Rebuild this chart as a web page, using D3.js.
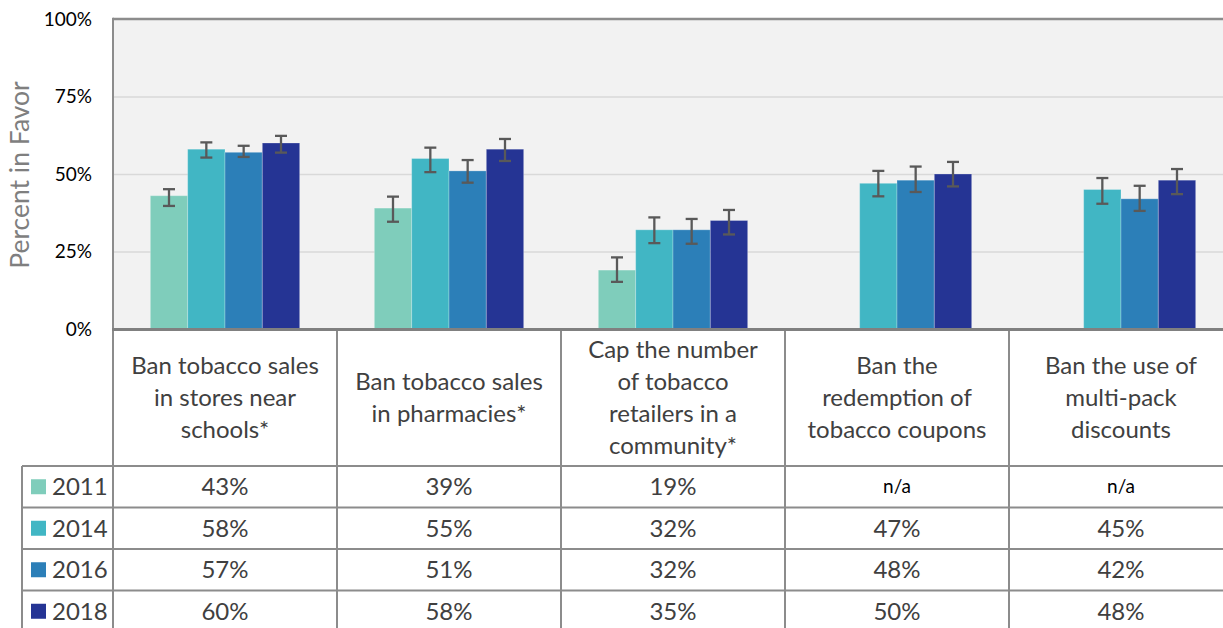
<!DOCTYPE html>
<html><head><meta charset="utf-8">
<script src="https://cdn.jsdelivr.net/npm/d3@7"></script>
<style>
body{margin:0;background:#fff}
svg{display:block}
text{font-family:Lato,"Open Sans",sans-serif}
</style>
</head><body>
<svg id="chart" width="1223" height="628"></svg>
<script>
// ---------- data ----------
const categories = [
  "Ban tobacco sales|in stores near|schools*",
  "Ban tobacco sales|in pharmacies*",
  "Cap the number|of tobacco|retailers in a|community*",
  "Ban the|redemption of|tobacco coupons",
  "Ban the use of|multi-pack|discounts"
];
const years = ["2011", "2014", "2016", "2018"];
const colors = ["#7fcdbb", "#41b6c4", "#2c7fb8", "#253494"];

const values2011 = [43, 39, 19, null, null];
const values2014 = [58, 55, 32, 47, 45];
const values2016 = [57, 51, 32, 48, 42];
const values2018 = [60, 58, 35, 50, 48];

const ciLow2011  = [39.7, 34.6, 15.2, null, null];
const ciHigh2011 = [45.1, 42.7, 23.1, null, null];
const ciLow2014  = [55.3, 50.6, 27.7, 42.8, 40.4];
const ciHigh2014 = [60.2, 58.5, 36.0, 51.0, 48.7];
const ciLow2016  = [55.5, 47.2, 27.5, 44.2, 38.1];
const ciHigh2016 = [59.1, 54.5, 35.5, 52.4, 46.2];
const ciLow2018  = [56.9, 54.2, 30.5, 46.0, 43.5];
const ciHigh2018 = [62.3, 61.3, 38.4, 53.9, 51.6];

const yTicks = [0, 25, 50, 75, 100];
const gridTicks = [25, 50, 75];
const naLabel = "n/a";
const yTitle = "Percent in Favor";

const seriesValues = [values2011, values2014, values2016, values2018];
const seriesLow = [ciLow2011, ciLow2014, ciLow2016, ciLow2018];
const seriesHigh = [ciHigh2011, ciHigh2014, ciHigh2016, ciHigh2018];

// ---------- layout ----------
const plotLeft = 113, plotRight = 1233, plotTop = 19, plotBottom = 329;
const headerBottom = 466, tableBottom = 632, legendLeft = 22;
const lineCol = "#8c8c8c";

const svg = d3.select("#chart");

const x = d3.scaleBand().domain(categories).range([plotLeft, plotRight]);
const xi = d3.scaleBand().domain(years)
  .range([x.bandwidth() / 6, x.bandwidth() * 5 / 6]);
const y = d3.scaleLinear().domain([0, 100]).range([plotBottom, plotTop]);
const row = d3.scaleBand().domain(years).range([headerBottom, tableBottom]);
const color = d3.scaleOrdinal().domain(years).range(colors);

// plot background
svg.append("rect")
  .attr("x", plotLeft).attr("y", plotTop)
  .attr("width", plotRight - plotLeft).attr("height", plotBottom - plotTop)
  .attr("fill", "#f2f2f2");

// gridlines
const grid = svg.append("g").attr("transform", `translate(${plotLeft},0)`)
  .call(d3.axisLeft(y).tickValues(gridTicks).tickFormat("")
    .tickSize(-(plotRight - plotLeft)));
grid.select(".domain").remove();
grid.selectAll("line").attr("stroke", "#d9d9d9").attr("stroke-width", 1.5);

// y axis labels
const yAxis = svg.append("g").attr("transform", `translate(${plotLeft},0)`)
  .call(d3.axisLeft(y).tickValues(yTicks).tickFormat(d => d + "%")
    .tickSize(0).tickPadding(21));
yAxis.select(".domain").remove();
yAxis.selectAll("text")
  .style("font-family", "Lato")
  .attr("font-size", 19).attr("fill", "#000");

// y title
svg.append("text")
  .attr("transform", `translate(29,${(plotTop + plotBottom) / 2 + 1}) rotate(-90)`)
  .attr("text-anchor", "middle")
  .attr("font-size", 26.5).attr("fill", "#7f7f7f")
  .text(yTitle);

// bars
const data = [];
categories.forEach((c, ci) => {
  years.forEach((yr, si) => {
    data.push({cat: c, year: yr, v: seriesValues[si][ci],
      lo: seriesLow[si][ci], hi: seriesHigh[si][ci]});
  });
});
const present = data.filter(d => d.v != null);

svg.append("g").selectAll("rect").data(present).join("rect")
  .attr("x", d => x(d.cat) + xi(d.year))
  .attr("width", xi.bandwidth())
  .attr("y", d => y(d.v))
  .attr("height", d => y(0) - y(d.v))
  .attr("fill", d => color(d.year))
  .attr("stroke", "rgba(255,255,255,0.25)").attr("stroke-width", 1);

// error bars
const eb = svg.append("g").selectAll("g").data(present).join("g")
  .attr("transform", d => `translate(${x(d.cat) + xi(d.year) + xi.bandwidth() / 2},0)`)
  .attr("stroke", "#595959").attr("stroke-width", 2.3);
eb.append("line").attr("y1", d => y(d.lo)).attr("y2", d => y(d.hi));
eb.append("line").attr("x1", -6).attr("x2", 6).attr("y1", d => y(d.lo)).attr("y2", d => y(d.lo));
eb.append("line").attr("x1", -6).attr("x2", 6).attr("y1", d => y(d.hi)).attr("y2", d => y(d.hi));

// plot border (top & left)
svg.append("line").attr("x1", plotLeft).attr("x2", plotRight)
  .attr("y1", plotTop).attr("y2", plotTop)
  .attr("stroke", lineCol).attr("stroke-width", 2.4);

// ---------- table ----------
const tbl = svg.append("g");
// row separators
row.domain().forEach(yr => {
  tbl.append("line").attr("x1", legendLeft).attr("x2", plotRight)
    .attr("y1", row(yr)).attr("y2", row(yr))
    .attr("stroke", lineCol).attr("stroke-width", 2);
});
// column separators
categories.forEach(c => {
  tbl.append("line").attr("x1", x(c)).attr("x2", x(c))
    .attr("y1", x(c) === plotLeft ? plotTop - 1.2 : plotBottom)
    .attr("y2", tableBottom)
    .attr("stroke", lineCol).attr("stroke-width", 2);
});
tbl.append("line").attr("x1", legendLeft).attr("x2", legendLeft)
  .attr("y1", headerBottom).attr("y2", tableBottom)
  .attr("stroke", lineCol).attr("stroke-width", 2);
// x axis line
tbl.append("line").attr("x1", plotLeft - 1).attr("x2", plotRight)
  .attr("y1", plotBottom + 0.5).attr("y2", plotBottom + 0.5)
  .attr("stroke", "#808080").attr("stroke-width", 3);

// header labels
const lineH = 32;
const headMid = (plotBottom + headerBottom) / 2;
categories.forEach(c => {
  const lines = c.split("|");
  const t = tbl.append("text")
    .attr("text-anchor", "middle").attr("font-size", 24).attr("fill", "#404040");
  lines.forEach((ln, i) => {
    t.append("tspan")
      .attr("x", x(c) + x.bandwidth() / 2)
      .attr("y", headMid + 8.5 + (i - (lines.length - 1) / 2) * lineH)
      .text(ln);
  });
});

// legend column
years.forEach(yr => {
  const cy = row(yr) + row.bandwidth() / 2;
  tbl.append("rect").attr("x", 31).attr("y", cy - 7.5)
    .attr("width", 15).attr("height", 15).attr("fill", color(yr));
  tbl.append("text").attr("x", 52).attr("y", cy + 8.5)
    .attr("font-size", 24).attr("fill", "#404040").text(yr);
});

// values
data.forEach(d => {
  const cy = row(d.year) + row.bandwidth() / 2;
  const isNA = d.v == null;
  tbl.append("text")
    .attr("x", x(d.cat) + x.bandwidth() / 2)
    .attr("y", cy + (isNA ? 6.5 : 8.5))
    .attr("text-anchor", "middle")
    .attr("font-size", isNA ? 19 : 24)
    .attr("fill", isNA ? "#000" : "#404040")
    .text(isNA ? naLabel : d3.format("d")(d.v) + "%");
});
</script>
</body></html>
